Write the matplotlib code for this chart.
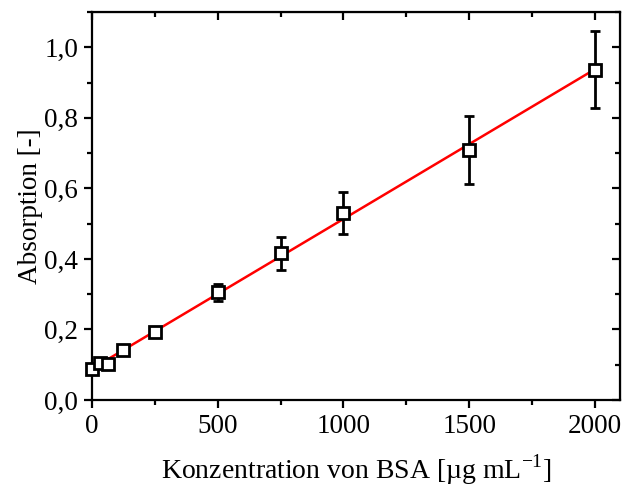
import matplotlib
matplotlib.use("Agg")
import matplotlib.pyplot as plt
import numpy as np
from matplotlib.ticker import MultipleLocator, FuncFormatter

# BSA calibration (Bradford): concentration vs. absorption
conc = [0, 31.25, 62.5, 125, 250, 500, 750, 1000, 1500, 2000]
absorption = [0.087, 0.104, 0.102, 0.142, 0.193, 0.306, 0.416, 0.531, 0.709, 0.937]
abs_err = [0.008, 0.006, 0.006, 0.006, 0.006, 0.024, 0.047, 0.059, 0.097, 0.108]

plt.rcParams["font.family"] = ["Liberation Serif"]
plt.rcParams["mathtext.fontset"] = "custom"
plt.rcParams["mathtext.rm"] = "Liberation Serif"

fig = plt.figure(figsize=(6.24, 4.88), dpi=100)
ax = fig.add_axes([0.1474, 0.1803, 0.8462, 0.7951])

# linear fit through the means
slope, intercept = np.polyfit(conc, absorption, 1)
xfit = np.array([0, 2000])
ax.plot(xfit, slope * xfit + intercept, color="red", lw=1.8, zorder=2)

ax.errorbar(conc, absorption, yerr=abs_err, fmt="s", ms=9, mfc="white",
            mec="black", mew=2, ecolor="black", elinewidth=2,
            capsize=3.5, capthick=2, zorder=3, clip_on=False)

ax.set_xlim(0, 2100)
ax.set_ylim(0, 1.1)
ax.xaxis.set_major_locator(MultipleLocator(500))
ax.xaxis.set_minor_locator(MultipleLocator(250))
ax.yaxis.set_major_locator(MultipleLocator(0.2))
ax.yaxis.set_minor_locator(MultipleLocator(0.1))
ax.yaxis.set_major_formatter(FuncFormatter(lambda v, p: f"{v:.1f}".replace(".", ",")))

for s in ax.spines.values():
    s.set_linewidth(1.6)
ax.tick_params(which="major", direction="out", length=6, width=1.6, labelsize=19.5, pad=4)
ax.tick_params(which="minor", direction="out", length=3.5, width=1.6)

# inward ticks on top and right
top = ax.secondary_xaxis("top")
top.xaxis.set_major_locator(MultipleLocator(500))
top.xaxis.set_minor_locator(MultipleLocator(250))
top.tick_params(which="major", direction="in", length=6, width=1.6, labeltop=False)
top.tick_params(which="minor", direction="in", length=3.5, width=1.6)
right = ax.secondary_yaxis("right")
right.yaxis.set_major_locator(MultipleLocator(0.2))
right.yaxis.set_minor_locator(MultipleLocator(0.1))
right.tick_params(which="major", direction="in", length=6, width=1.6, labelright=False)
right.tick_params(which="minor", direction="in", length=3.5, width=1.6)

ax.set_xlabel(r"Konzentration von BSA [µg mL$^{\mathrm{-1}}$]", fontsize=20, labelpad=10)
ax.set_ylabel("Absorption [-]", fontsize=19.5, labelpad=1)

fig.savefig("out.png", dpi=100)
